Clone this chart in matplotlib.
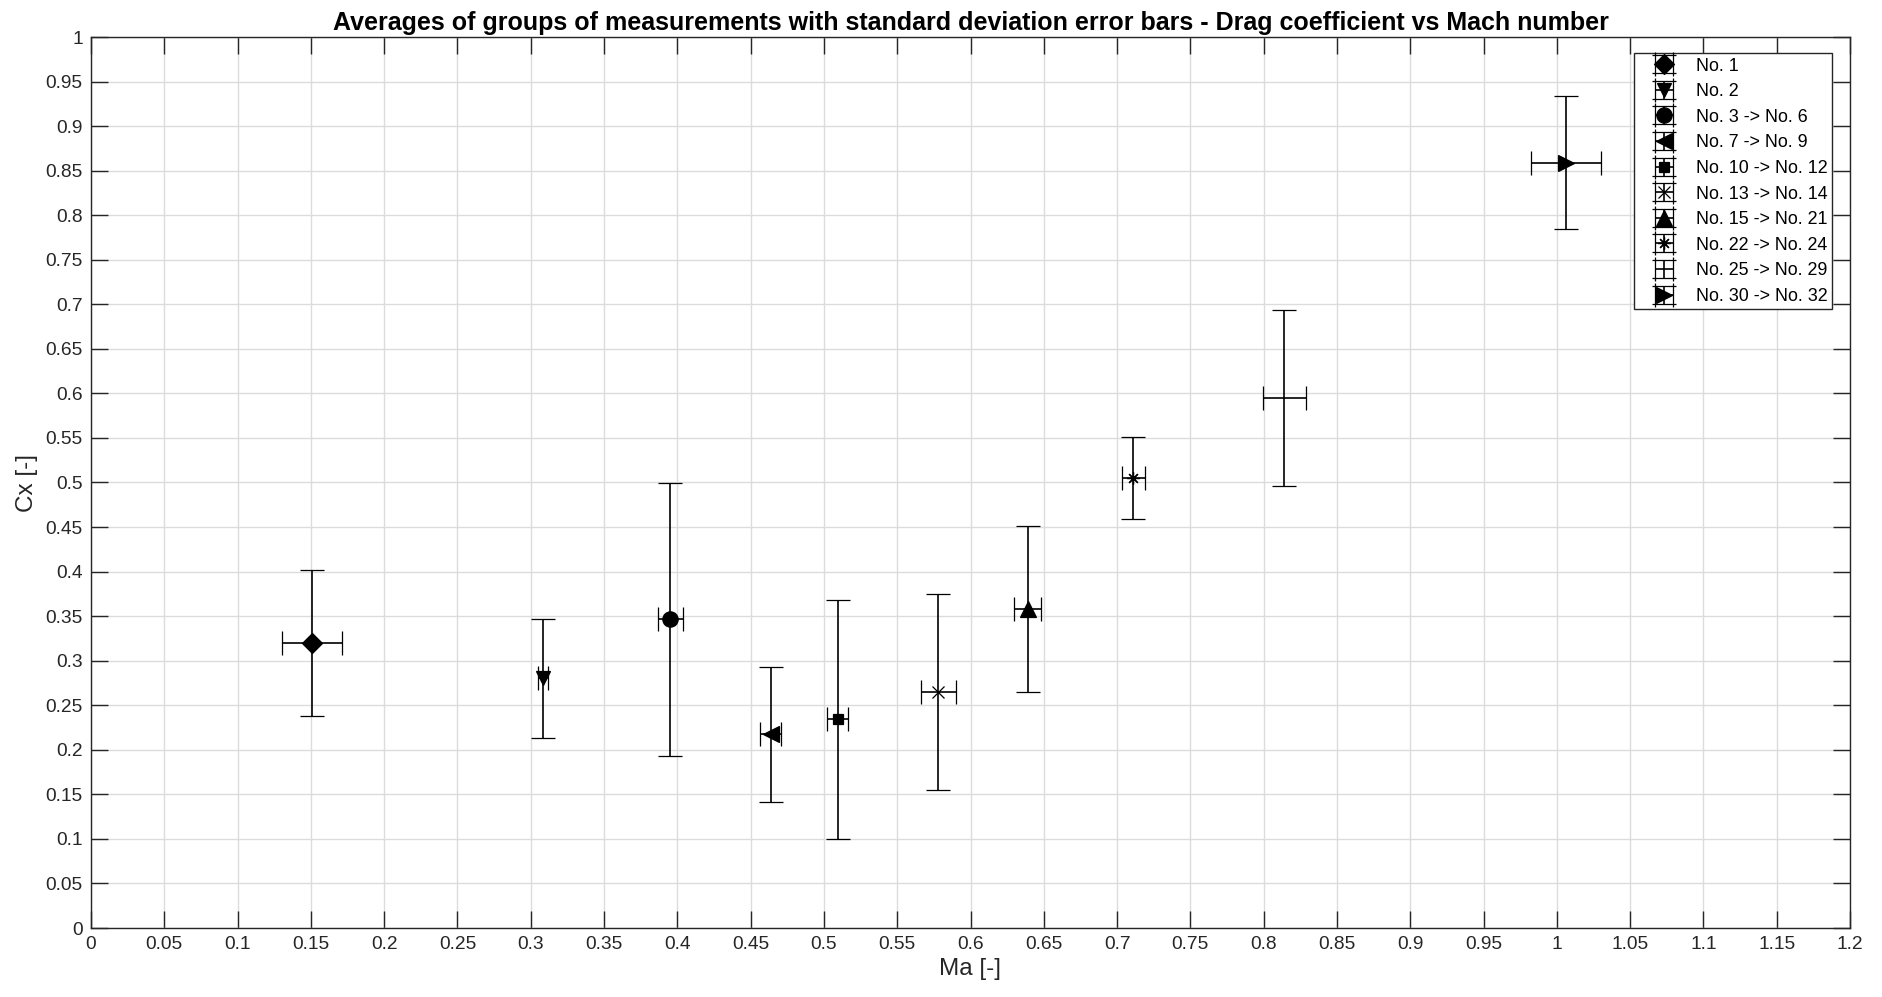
import numpy as np
import matplotlib
matplotlib.use('Agg')
import matplotlib.pyplot as plt

plt.rcParams['font.family'] = ['Liberation Sans', 'DejaVu Sans']

# group averages (Mach number, drag coefficient) and standard deviations
labels = ['No. 1', 'No. 2', 'No. 3 -> No. 6', 'No. 7 -> No. 9', 'No. 10 -> No. 12',
          'No. 13 -> No. 14', 'No. 15 -> No. 21', 'No. 22 -> No. 24',
          'No. 25 -> No. 29', 'No. 30 -> No. 32']
ma = [0.1507, 0.3084, 0.3952, 0.4636, 0.5094, 0.5780, 0.6389, 0.7111, 0.8140, 1.0061]
cx = [0.3195, 0.2802, 0.3465, 0.2174, 0.2342, 0.2645, 0.3580, 0.5047, 0.5950, 0.8590]
ma_std = [0.0205, 0.0037, 0.0087, 0.0072, 0.0070, 0.0121, 0.0095, 0.0078, 0.0147, 0.0237]
cx_std = [0.0820, 0.0670, 0.1530, 0.0760, 0.1340, 0.1100, 0.0930, 0.0460, 0.0990, 0.0750]
# (8, 2, 0) is an eight-armed asterisk like matlab's '*'
markers = ['D', 'v', 'o', '<', 's', 'x', '^', (8, 2, 0), 'None', '>']
msizes = [10, 10, 11, 11, 7, 8, 11, 9, 0, 11]

fig = plt.figure(figsize=(18.83, 9.97), dpi=100)
ax = fig.add_axes([91 / 1883, 1 - 928 / 997, 1759 / 1883, 891 / 997])

for i in range(len(ma)):
    filled = markers[i] in ('D', 'v', 'o', '<', 's', '^', '>')
    ax.errorbar(ma[i], cx[i], xerr=ma_std[i], yerr=cx_std[i],
                marker=markers[i], linestyle='none', color='black', ms=msizes[i],
                mfc='black' if filled else 'none', mec='black',
                mew=0.9, ecolor='black', elinewidth=1.2,
                capsize=8.6, capthick=1.2, label=labels[i])

ax.set_xlim(0, 1.2)
ax.set_ylim(0, 1)
xt = np.arange(0, 1.2001, 0.05)
yt = np.arange(0, 1.0001, 0.05)
ax.set_xticks(xt)
ax.set_yticks(yt)
ax.set_xticklabels(['%g' % round(v, 2) for v in xt])
ax.set_yticklabels(['%g' % round(v, 2) for v in yt])

ax.grid(True, color='#dcdcdc', linewidth=1.0)
ax.set_axisbelow(True)
ax.tick_params(direction='in', length=12, width=1.0, colors='#262626',
               labelsize=13.8, top=True, right=True, pad=6)
for s in ax.spines.values():
    s.set_color('#262626')
    s.set_linewidth(1.0)

ax.set_xlabel('Ma [-]', fontsize=17.5, color='#262626', labelpad=3)
ax.set_ylabel('Cx [-]', fontsize=17.5, color='#262626', labelpad=5)
ax.set_title('Averages of groups of measurements with standard deviation error bars'
             ' - Drag coefficient vs Mach number',
             fontsize=18, fontweight='bold', pad=5)

leg = ax.legend(loc='upper right', bbox_to_anchor=(0.990, 0.982),
                bbox_transform=ax.transAxes, fontsize=12.9, frameon=True,
                fancybox=False, edgecolor='#262626', framealpha=1,
                borderpad=0.25, labelspacing=0.48, handlelength=2.8,
                handletextpad=0.4, borderaxespad=0)
leg.get_frame().set_linewidth(1.0)

fig.savefig('out.png', dpi=100)
